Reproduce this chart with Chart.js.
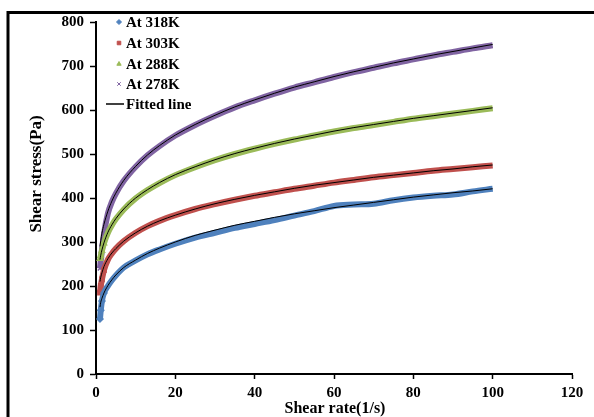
<!DOCTYPE html>
<html>
<head>
<meta charset="utf-8">
<script src="https://cdn.jsdelivr.net/npm/chart.js@4.4.0/dist/chart.umd.min.js"></script>
<style>
  html, body { margin: 0; padding: 0; background: #fff; }
  #wrap { position: relative; width: 594px; height: 417px; overflow: hidden; }
  canvas { display: block; }
</style>
</head>
<body>
<div id="wrap"><canvas id="flowChart" width="594" height="417"></canvas></div>
<script>
// Shear rate (1/s) used for every temperature
const shearRate = [1, 1.2, 1.5, 2, 3, 4, 5, 7, 10, 13, 16, 20, 25, 30, 35, 40, 45, 50, 55, 60, 65, 70, 75, 80, 85, 90, 95, 100]

// Measured shear stress (Pa)
const stress318 = [125, 145, 166, 184, 200, 213, 224, 242, 258, 272, 283, 296, 310, 321, 332, 341, 350, 360, 370, 382, 385, 387, 395, 401, 405, 408, 415, 421]
const stress303 = [185, 200, 215, 236, 260, 274, 285, 302, 321, 336, 348, 361, 375, 386, 396, 405, 413, 421, 428, 435, 441, 447, 452, 457, 462, 466, 470, 474]
const stress288 = [262, 268, 280, 297, 321, 338, 352, 374, 399, 418, 434, 452, 470, 486, 500, 512, 523, 533, 542, 551, 559, 566, 573, 580, 586, 592, 598, 604]
const stress278 = [240, 258, 282, 318, 365, 391, 410, 439, 471, 497, 518, 542, 566, 587, 606, 622, 637, 651, 663, 675, 686, 696, 706, 715, 724, 732, 740, 747]

// Fitted curves (Pa)
const fit318 = [152, 163, 172, 184, 201, 214, 225, 242, 259, 274, 286, 300, 315, 327, 338, 347, 356, 364, 371, 378, 384, 390, 396, 402, 407, 412, 416, 421]
const fit303 = [210, 220, 230, 244, 262, 275, 285, 302, 321, 336, 348, 361, 375, 387, 397, 406, 414, 422, 429, 435, 441, 447, 452, 457, 462, 466, 471, 475]
const fit288 = [260, 270, 282, 298, 322, 339, 353, 375, 400, 419, 435, 453, 471, 487, 501, 513, 524, 534, 543, 552, 560, 567, 574, 581, 587, 593, 599, 605]
const fit278 = [290, 303, 320, 340, 370, 393, 411, 440, 472, 498, 519, 543, 567, 588, 607, 623, 638, 652, 664, 676, 687, 697, 707, 716, 725, 733, 741, 749]

const seriesLabels = ['At 318K', 'At 303K', 'At 288K', 'At 278K']
const seriesColors = ['#4f81bd', '#c0504d', '#9bbb59', '#8064a2']
const seriesMarkers = ['rectRot', 'rect', 'triangle', 'crossRot']
const fitLabel = 'Fitted line'

const xTitle = 'Shear rate(1/s)'
const yTitle = 'Shear stress(Pa)'

const FONT = '"Liberation Serif", "Times New Roman", serif'

function points(ys) {
  return ys.map((y, i) => ({ x: shearRate[i], y: y }))
}

const measured = [stress318, stress303, stress288, stress278]
const fitted = [fit318, fit303, fit288, fit278]

const datasets = []
// fitted lines first so they sit on top of the thick data bands
fitted.forEach((ys) => {
  datasets.push({
    label: fitLabel,
    data: points(ys),
    showLine: true,
    borderColor: '#000',
    borderWidth: 1,
    pointRadius: 0,
    cubicInterpolationMode: 'monotone'
  })
})
measured.forEach((ys, i) => {
  datasets.push({
    label: seriesLabels[i],
    data: points(ys),
    showLine: true,
    borderColor: seriesColors[i],
    backgroundColor: seriesColors[i],
    borderWidth: 6,
    pointStyle: seriesMarkers[i],
    // markers only stand out where the readings are sparse, at the low end
    pointRadius: (c) => (c.raw && c.raw.x <= 2 ? 3 : 0),
    pointBorderWidth: 1.5,
    pointBackgroundColor: seriesColors[i],
    pointBorderColor: seriesColors[i],
    cubicInterpolationMode: 'monotone'
  })
})

// outer border of the figure
const framePlugin = {
  id: 'frame',
  afterDraw(chart) {
    const ctx = chart.ctx
    ctx.save()
    ctx.strokeStyle = '#000'
    ctx.lineWidth = 3
    ctx.beginPath()
    ctx.moveTo(8, 417)
    ctx.lineTo(8, 12.5)
    ctx.lineTo(594, 12.5)
    ctx.stroke()
    ctx.restore()
  }
}

// legend drawn inside the top-left corner of the plot
const legendPlugin = {
  id: 'cornerLegend',
  afterDraw(chart) {
    const ctx = chart.ctx
    const rows = [22, 43, 64, 84, 104]
    ctx.save()
    ctx.font = 'bold 15px ' + FONT
    ctx.textBaseline = 'middle'
    seriesLabels.forEach((label, i) => {
      ctx.fillStyle = seriesColors[i]
      ctx.strokeStyle = seriesColors[i]
      Chart.helpers.drawPoint(ctx, {
        pointStyle: seriesMarkers[i],
        radius: 2.5,
        borderWidth: 1.2,
        rotation: 0
      }, 119, rows[i])
      ctx.fillStyle = '#000'
      ctx.fillText(label, 126, rows[i] + 1)
    })
    ctx.strokeStyle = '#000'
    ctx.lineWidth = 1.5
    ctx.beginPath()
    ctx.moveTo(106, rows[4])
    ctx.lineTo(124, rows[4])
    ctx.stroke()
    ctx.fillText(fitLabel, 126, rows[4] + 1)
    ctx.restore()
  }
}

// axis titles
const titlePlugin = {
  id: 'axisTitles',
  afterDraw(chart) {
    const ctx = chart.ctx
    ctx.save()
    ctx.fillStyle = '#000'
    ctx.textAlign = 'center'
    ctx.textBaseline = 'middle'
    ctx.font = 'bold 16px ' + FONT
    ctx.fillText(xTitle, 335, 409)
    ctx.font = 'bold 17px ' + FONT
    ctx.translate(37, 174)
    ctx.rotate(-Math.PI / 2)
    ctx.fillText(yTitle, 0, 0)
    ctx.restore()
  }
}

const tickFont = { family: FONT, size: 15, weight: 'bold' }

new Chart(document.getElementById('flowChart'), {
  type: 'scatter',
  data: { datasets: datasets },
  plugins: [framePlugin, legendPlugin, titlePlugin],
  options: {
    responsive: false,
    animation: false,
    devicePixelRatio: 1,
    layout: { padding: { left: 0, right: 22, top: 22, bottom: 0 } },
    plugins: {
      legend: { display: false },
      tooltip: { enabled: false }
    },
    scales: {
      x: {
        type: 'linear',
        min: 0,
        max: 120,
        ticks: { stepSize: 20, color: '#000', font: tickFont, padding: 5, maxRotation: 0 },
        grid: { display: true, drawOnChartArea: false, drawTicks: true, tickLength: 5, tickColor: '#000', tickWidth: 1.5 },
        border: { display: true, color: '#000', width: 2 },
        afterFit(scale) { scale.height = 43 }
      },
      y: {
        type: 'linear',
        min: 0,
        max: 800,
        ticks: { stepSize: 100, color: '#000', font: tickFont, padding: 6 },
        grid: { display: true, drawOnChartArea: false, drawTicks: true, tickLength: 6, tickColor: '#000', tickWidth: 1.5 },
        border: { display: true, color: '#000', width: 2 },
        afterFit(scale) { scale.width = 96 }
      }
    }
  }
})
</script>
</body>
</html>
